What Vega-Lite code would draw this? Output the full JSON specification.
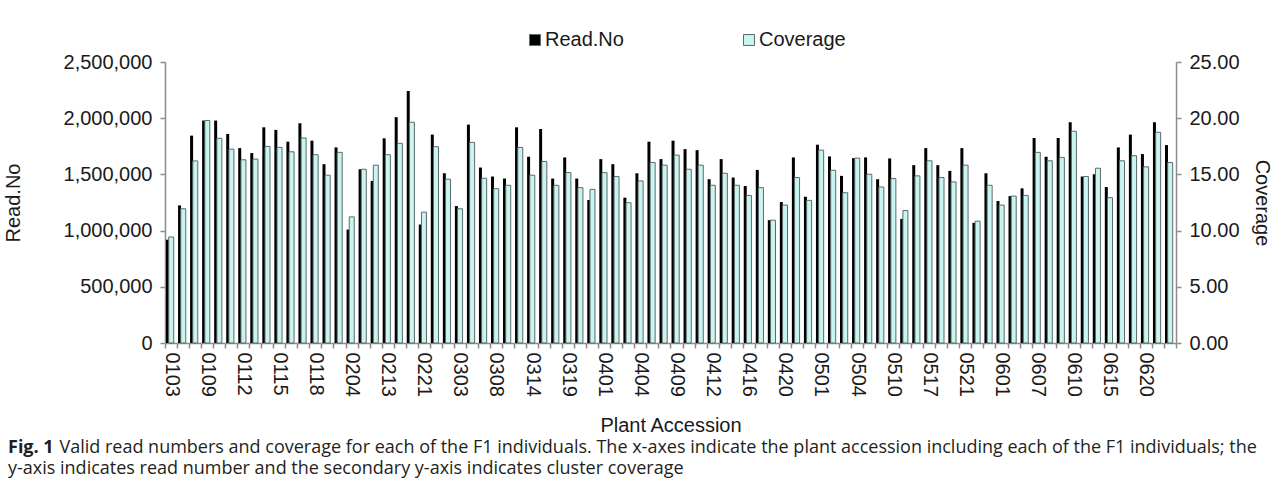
{
  "$schema": "https://vega.github.io/schema/vega-lite/v6.json",
  "width": 1011,
  "height": 281,
  "autosize": "none",
  "padding": {"left": 165, "top": 62, "right": 105, "bottom": 150},
  "background": "white",
  "config": {
    "font": "Liberation Sans",
    "view": {"stroke": null},
    "axis": {
      "domainColor": "#8c8c8c",
      "domainWidth": 1.5,
      "tickColor": "#8c8c8c",
      "tickWidth": 1.5,
      "tickSize": 5,
      "labelColor": "#1a1a1a",
      "labelFontSize": 20,
      "labelFont": "Liberation Sans",
      "titleFont": "Liberation Sans",
      "titleFontSize": 20,
      "titleFontWeight": "normal",
      "titleColor": "#1a1a1a",
      "grid": false
    }
  },
  "title": {
    "text": "Fig. 1",
    "subtitle": [
      "\u200b\u00a0\u00a0\u00a0\u00a0\u00a0\u00a0\u00a0\u00a0\u00a0\u00a0\u00a0Valid read numbers and coverage for each of the F1 individuals. The x-axes indicate the plant accession including each of the F1 individuals; the",
      "y-axis indicates read number and the secondary y-axis indicates cluster coverage"
    ],
    "orient": "bottom",
    "anchor": "start",
    "frame": "group",
    "dx": -157,
    "offset": 4,
    "font": "Open Sans",
    "fontSize": 18,
    "fontWeight": "bold",
    "color": "#231f20",
    "subtitleFont": "Open Sans",
    "subtitleFontSize": 18,
    "subtitleFontWeight": "normal",
    "subtitleColor": "#231f20",
    "subtitleLineHeight": 21,
    "subtitlePadding": -18
  },
  "data": {
    "values": [
      {"acc": "0103", "read": 919000, "cov": 9.43},
      {"acc": "0105", "read": 1224000, "cov": 11.94},
      {"acc": "0107", "read": 1845000, "cov": 16.2},
      {"acc": "0109", "read": 1979000, "cov": 19.79},
      {"acc": "0110", "read": 1979000, "cov": 18.21},
      {"acc": "0111", "read": 1860000, "cov": 17.25},
      {"acc": "0112", "read": 1734000, "cov": 16.3},
      {"acc": "0113", "read": 1690000, "cov": 16.36},
      {"acc": "0114", "read": 1919000, "cov": 17.49},
      {"acc": "0115", "read": 1896000, "cov": 17.4},
      {"acc": "0116", "read": 1791000, "cov": 17.01},
      {"acc": "0117", "read": 1955000, "cov": 18.24},
      {"acc": "0118", "read": 1800000, "cov": 16.75},
      {"acc": "0119", "read": 1591000, "cov": 14.93},
      {"acc": "0120", "read": 1740000, "cov": 16.96},
      {"acc": "0204", "read": 1009000, "cov": 11.22},
      {"acc": "0207", "read": 1546000, "cov": 15.46},
      {"acc": "0210", "read": 1442000, "cov": 15.82},
      {"acc": "0213", "read": 1821000, "cov": 16.75},
      {"acc": "0215", "read": 2009000, "cov": 17.76},
      {"acc": "0218", "read": 2242000, "cov": 19.64},
      {"acc": "0221", "read": 1054000, "cov": 11.64},
      {"acc": "0225", "read": 1854000, "cov": 17.46},
      {"acc": "0301", "read": 1510000, "cov": 14.57},
      {"acc": "0303", "read": 1218000, "cov": 11.94},
      {"acc": "0305", "read": 1943000, "cov": 17.85},
      {"acc": "0306", "read": 1561000, "cov": 14.66},
      {"acc": "0308", "read": 1481000, "cov": 13.73},
      {"acc": "0310", "read": 1463000, "cov": 14.03},
      {"acc": "0312", "read": 1919000, "cov": 17.4},
      {"acc": "0314", "read": 1657000, "cov": 14.93},
      {"acc": "0316", "read": 1904000, "cov": 16.15},
      {"acc": "0318", "read": 1463000, "cov": 14.03},
      {"acc": "0319", "read": 1651000, "cov": 15.16},
      {"acc": "0320", "read": 1463000, "cov": 13.82},
      {"acc": "0322", "read": 1272000, "cov": 13.67},
      {"acc": "0401", "read": 1636000, "cov": 15.16},
      {"acc": "0402", "read": 1591000, "cov": 14.81},
      {"acc": "0403", "read": 1293000, "cov": 12.48},
      {"acc": "0404", "read": 1510000, "cov": 14.42},
      {"acc": "0406", "read": 1791000, "cov": 16.06},
      {"acc": "0408", "read": 1636000, "cov": 15.82},
      {"acc": "0409", "read": 1800000, "cov": 16.72},
      {"acc": "0410", "read": 1725000, "cov": 15.46},
      {"acc": "0411", "read": 1716000, "cov": 15.82},
      {"acc": "0412", "read": 1457000, "cov": 14.03},
      {"acc": "0413", "read": 1636000, "cov": 15.1},
      {"acc": "0415", "read": 1472000, "cov": 14.03},
      {"acc": "0416", "read": 1397000, "cov": 13.13},
      {"acc": "0418", "read": 1540000, "cov": 13.82},
      {"acc": "0419", "read": 1093000, "cov": 10.93},
      {"acc": "0420", "read": 1254000, "cov": 12.27},
      {"acc": "0422", "read": 1651000, "cov": 14.72},
      {"acc": "0425", "read": 1301000, "cov": 12.69},
      {"acc": "0501", "read": 1764000, "cov": 17.16},
      {"acc": "0502", "read": 1660000, "cov": 15.37},
      {"acc": "0503", "read": 1487000, "cov": 13.37},
      {"acc": "0504", "read": 1645000, "cov": 16.45},
      {"acc": "0506", "read": 1651000, "cov": 15.01},
      {"acc": "0508", "read": 1457000, "cov": 13.88},
      {"acc": "0510", "read": 1642000, "cov": 14.63},
      {"acc": "0512", "read": 1104000, "cov": 11.79},
      {"acc": "0515", "read": 1582000, "cov": 14.87},
      {"acc": "0517", "read": 1734000, "cov": 16.21},
      {"acc": "0518", "read": 1582000, "cov": 14.72},
      {"acc": "0520", "read": 1531000, "cov": 14.33},
      {"acc": "0521", "read": 1734000, "cov": 15.82},
      {"acc": "0523", "read": 1069000, "cov": 10.84},
      {"acc": "0525", "read": 1510000, "cov": 14.03},
      {"acc": "0601", "read": 1263000, "cov": 12.27},
      {"acc": "0603", "read": 1307000, "cov": 13.07},
      {"acc": "0605", "read": 1376000, "cov": 13.13},
      {"acc": "0607", "read": 1824000, "cov": 16.96},
      {"acc": "0608", "read": 1657000, "cov": 16.21},
      {"acc": "0609", "read": 1824000, "cov": 16.51},
      {"acc": "0610", "read": 1964000, "cov": 18.84},
      {"acc": "0612", "read": 1481000, "cov": 14.81},
      {"acc": "0613", "read": 1501000, "cov": 15.55},
      {"acc": "0615", "read": 1388000, "cov": 12.93},
      {"acc": "0617", "read": 1740000, "cov": 16.21},
      {"acc": "0618", "read": 1854000, "cov": 16.66},
      {"acc": "0620", "read": 1681000, "cov": 15.67},
      {"acc": "0622", "read": 1964000, "cov": 18.75},
      {"acc": "0624", "read": 1761000, "cov": 16.06}
    ]
  },
  "layer": [
    {
      "mark": {"type": "bar", "width": 3, "xOffset": -3.5},
      "encoding": {
        "x": {
          "field": "acc",
          "type": "nominal",
          "sort": null,
          "scale": {"paddingInner": 0, "paddingOuter": 0},
          "axis": {
            "title": "Plant Accession",
            "labelAngle": 90,
            "labelOverlap": false,
            "tickBand": "extent",
            "labelPadding": 4,
            "titlePadding": 19,
            "labelExpr": "indexof(['0103','0109','0112','0115','0118','0204','0213','0221','0303','0308','0314','0319','0401','0404','0409','0412','0416','0420','0501','0504','0510','0517','0521','0601','0607','0610','0615','0620'], datum.value) >= 0 ? datum.value : ''"
          }
        },
        "y": {
          "field": "read",
          "type": "quantitative",
          "scale": {"domain": [0, 2500000], "nice": false},
          "axis": {
            "title": "Read.No",
            "values": [0, 500000, 1000000, 1500000, 2000000, 2500000],
            "format": ",d",
            "labelPadding": 8,
            "titlePadding": 40
          }
        },
        "color": {
          "datum": "Read.No",
          "type": "nominal",
          "scale": {"domain": ["Read.No", "Coverage"], "range": ["#000000", "#c8f4f1"]},
          "legend": {
            "orient": "none",
            "legendX": 360,
            "legendY": -32,
            "direction": "horizontal",
            "title": null,
            "symbolType": "square",
            "symbolSize": 120,
            "symbolStrokeColor": "#444444",
            "symbolStrokeWidth": 1,
            "labelFontSize": 20,
            "labelFont": "Liberation Sans",
            "labelColor": "#1a1a1a",
            "labelOffset": 0,
            "columnPadding": 115,
            "padding": 0
          }
        }
      }
    },
    {
      "mark": {"type": "bar", "width": 5, "xOffset": 0.2, "stroke": "#5d6a6a", "strokeWidth": 1},
      "encoding": {
        "x": {"field": "acc", "type": "nominal", "sort": null},
        "y": {
          "field": "cov",
          "type": "quantitative",
          "scale": {"domain": [0, 25], "nice": false},
          "axis": {
            "title": "Coverage",
            "orient": "right",
            "values": [0, 5, 10, 15, 20, 25],
            "format": ".2f",
            "labelPadding": 8,
            "titlePadding": 12
          }
        },
        "color": {"datum": "Coverage", "type": "nominal"}
      }
    }
  ],
  "resolve": {"scale": {"y": "independent"}}
}
